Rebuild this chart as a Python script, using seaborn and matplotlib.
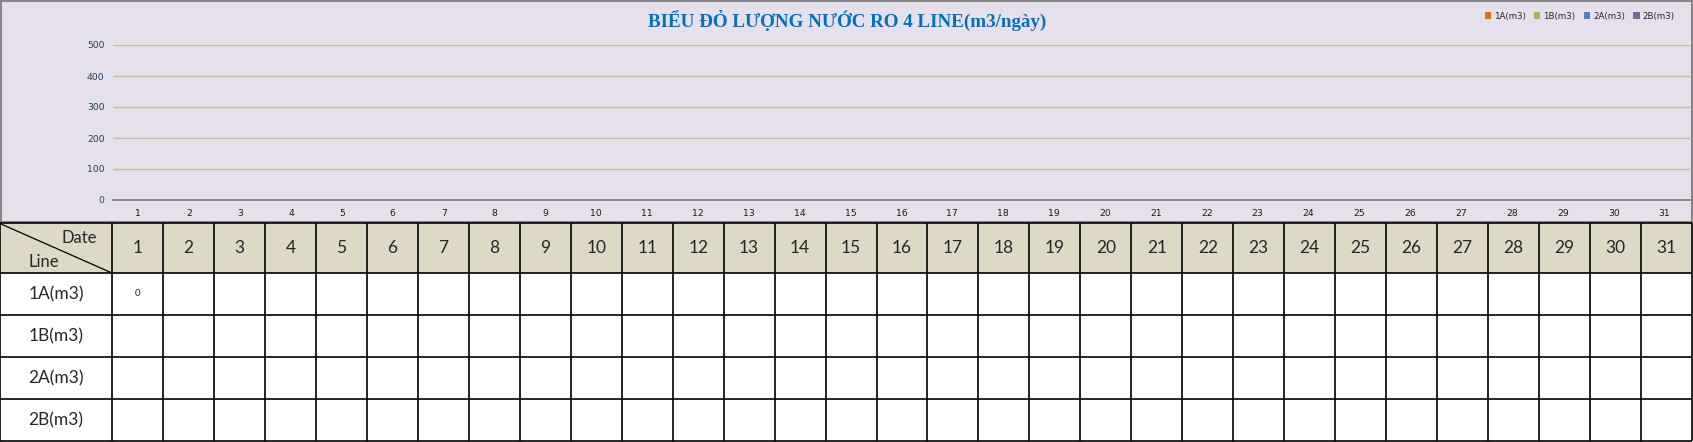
import numpy as np
import pandas as pd
import matplotlib
matplotlib.use("Agg")
import matplotlib.pyplot as plt
from matplotlib.patches import Rectangle, Patch
import seaborn as sns

nan = float("nan")

# Daily RO water volume per line (m3); only day 1 of line 1A has been entered
days = [str(d) for d in range(1, 32)]
lines = ["1A(m3)", "1B(m3)", "2A(m3)", "2B(m3)"]
line_1a = [0, nan, nan, nan, nan, nan, nan, nan, nan, nan, nan, nan, nan, nan, nan, nan,
           nan, nan, nan, nan, nan, nan, nan, nan, nan, nan, nan, nan, nan, nan, nan]
line_1b = [nan, nan, nan, nan, nan, nan, nan, nan, nan, nan, nan, nan, nan, nan, nan, nan,
           nan, nan, nan, nan, nan, nan, nan, nan, nan, nan, nan, nan, nan, nan, nan]
line_2a = [nan, nan, nan, nan, nan, nan, nan, nan, nan, nan, nan, nan, nan, nan, nan, nan,
           nan, nan, nan, nan, nan, nan, nan, nan, nan, nan, nan, nan, nan, nan, nan]
line_2b = [nan, nan, nan, nan, nan, nan, nan, nan, nan, nan, nan, nan, nan, nan, nan, nan,
           nan, nan, nan, nan, nan, nan, nan, nan, nan, nan, nan, nan, nan, nan, nan]
y_ticks = [0, 100, 200, 300, 400, 500]

title = "BIỂU ĐỎ LƯỢNG NƯỚC RO 4 LINE(m3/ngày)"
line_colors = ["#E46C0A", "#9BBB59", "#4F81BD", "#8064A2"]

series = [line_1a, line_1b, line_2a, line_2b]
df = pd.DataFrame({
    "day": days * len(lines),
    "line": [ln for ln in lines for _ in days],
    "value": [v for s in series for v in s],
})

sns.set_style("white")
plt.rcParams["font.family"] = ["DejaVu Sans"]

W, H = 1693, 442
fig = plt.figure(figsize=(W / 100, H / 100), dpi=100)
fig.patch.set_facecolor("white")

# chart area background
fig.patches.append(Rectangle((1 / W, 1 - 222 / H), 1691 / W, 221 / H,
                             transform=fig.transFigure, facecolor="#E6E0EC",
                             edgecolor="#868686", lw=1.5, zorder=-5))

# plot area
ax = fig.add_axes([113 / W, 1 - 200 / H, (1690 - 113) / W, 155 / H])
ax.set_zorder(2)
ax.set_facecolor("none")
sns.barplot(data=df.dropna(), x="day", y="value", hue="line", order=days,
            hue_order=lines, palette=line_colors, ax=ax, legend=False,
            errorbar=None, width=0.8)
ax.set_xlim(-0.5, len(days) - 0.5)
ax.set_ylim(0, 500)
ax.set_yticks(y_ticks)
ax.set_yticklabels([str(t) for t in y_ticks], fontsize=6.7, color="#243F60")
ax.set_xticks(range(len(days)))
ax.set_xticklabels(days, fontsize=6.7, color="#1a1a1a")
ax.tick_params(axis="y", length=0, pad=6)
ax.tick_params(axis="x", length=0, pad=6.5)
ax.set_xlabel("")
ax.set_ylabel("")
ax.yaxis.grid(True, color="#C4BD97", lw=1)
ax.set_axisbelow(True)
for side in ["top", "right", "left"]:
    ax.spines[side].set_visible(False)
ax.spines["bottom"].set_color("#868686")
ax.spines["bottom"].set_linewidth(1.3)

fig.text(847 / W, 1 - 21 / H, title, ha="center", va="center",
         fontsize=13.7, fontweight="bold", color="#0070C0",
         family=["Liberation Serif", "DejaVu Serif"])

handles = [Patch(facecolor=c, edgecolor="none") for c in line_colors]
fig.legend(handles, lines, loc="center right",
           bbox_to_anchor=(1679 / W, 1 - 16 / H), ncol=4, frameon=False,
           fontsize=6.2, handlelength=0.75, handleheight=0.75,
           handletextpad=0.35, columnspacing=0.95, borderpad=0)

# data table below the chart
tab = fig.add_axes([0, 0, 1, 1])
tab.set_zorder(1)
tab.set_xlim(0, W)
tab.set_ylim(H, 0)
tab.axis("off")

first_w = 112
col_w = (1692 - first_w) / len(days)
col_edges = [0] + [first_w + col_w * k for k in range(len(days) + 1)]
row_edges = [223, 273, 315, 357, 399, 441]

tab.add_patch(Rectangle((0, row_edges[0]), col_edges[-1], row_edges[1] - row_edges[0],
                        facecolor="#DDD9C4", edgecolor="none"))
tab.add_patch(Rectangle((0, row_edges[1]), col_edges[-1], row_edges[-1] - row_edges[1],
                        facecolor="white", edgecolor="none"))
for xe in col_edges:
    tab.plot([xe, xe], [row_edges[0], row_edges[-1]], color="black", lw=1.2,
             solid_capstyle="butt")
for ye in row_edges:
    tab.plot([0, col_edges[-1]], [ye, ye], color="black", lw=1.2,
             solid_capstyle="butt")
tab.plot([1, first_w], [row_edges[0] + 1, row_edges[1]], color="black", lw=0.9)

cell_font = ["Lato", "DejaVu Sans"]
tab.text(79, 238, "Date", ha="center", va="center", fontsize=12, family=cell_font)
tab.text(44, 262, "Line", ha="center", va="center", fontsize=12, family=cell_font)

for k, d in enumerate(days):
    cx = (col_edges[k + 1] + col_edges[k + 2]) / 2
    tab.text(cx, (row_edges[0] + row_edges[1]) / 2, d, ha="center", va="center",
             fontsize=12.5, family=cell_font)

for r, (ln, s) in enumerate(zip(lines, series)):
    cy = (row_edges[r + 1] + row_edges[r + 2]) / 2
    tab.text(first_w / 2, cy, ln, ha="center", va="center", fontsize=12.5,
             family=cell_font)
    for k, v in enumerate(s):
        if not np.isnan(v):
            cx = (col_edges[k + 1] + col_edges[k + 2]) / 2
            tab.text(cx, cy, f"{v:g}", ha="center", va="center", fontsize=7,
                     family=cell_font)

fig.savefig("out.png", dpi=100)
